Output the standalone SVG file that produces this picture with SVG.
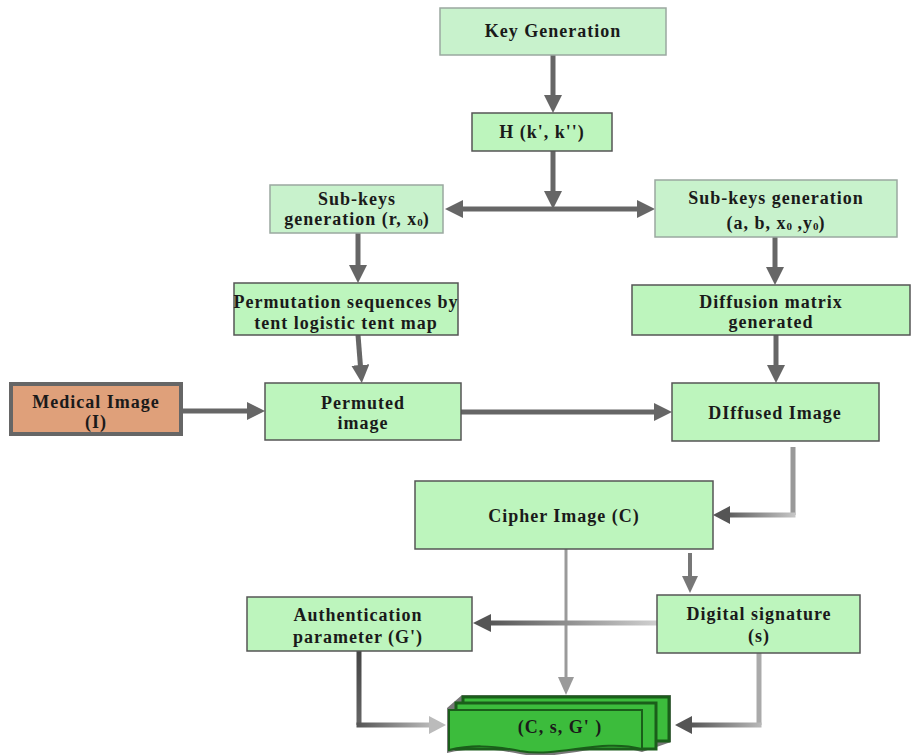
<svg xmlns="http://www.w3.org/2000/svg" width="913" height="755" viewBox="0 0 913 755">
<style>
.box{fill:#bdf5bd;stroke:#555;stroke-width:1.5}
.pale{fill:#c8f2cc;stroke:#9aa8a0;stroke-width:1.5}
.t{font-family:"Liberation Serif","DejaVu Serif",serif;font-weight:bold;font-size:18px;letter-spacing:1px;fill:#1a1a1a;text-anchor:middle}
.sub{font-size:11px;letter-spacing:0}
.c{fill:none;stroke:#666;stroke-width:5}
</style>
<defs>
<marker id="ah" markerWidth="18" markerHeight="18" refX="8" refY="9" orient="auto-start-reverse" markerUnits="userSpaceOnUse"><path d="M0,0 L18,9 L0,18 z" fill="#666"/></marker>
<linearGradient id="gDC" gradientUnits="userSpaceOnUse" x1="723" y1="0" x2="796" y2="0"><stop offset="0" stop-color="#555"/><stop offset="1" stop-color="#c8c8c8"/></linearGradient>
<linearGradient id="gDA" gradientUnits="userSpaceOnUse" x1="488" y1="0" x2="657" y2="0"><stop offset="0" stop-color="#555"/><stop offset="1" stop-color="#d0d0d0"/></linearGradient>
<linearGradient id="gAB" gradientUnits="userSpaceOnUse" x1="357" y1="0" x2="432" y2="0"><stop offset="0" stop-color="#555"/><stop offset="1" stop-color="#bbb"/></linearGradient>
<linearGradient id="gAV" gradientUnits="userSpaceOnUse" x1="0" y1="651" x2="0" y2="725"><stop offset="0" stop-color="#444"/><stop offset="1" stop-color="#666"/></linearGradient>
<linearGradient id="gSB" gradientUnits="userSpaceOnUse" x1="690" y1="0" x2="763" y2="0"><stop offset="0" stop-color="#555"/><stop offset="1" stop-color="#bbb"/></linearGradient>
</defs>

<g id="connectors">
<line class="c" x1="553" y1="55" x2="553" y2="103" marker-end="url(#ah)"/>
<line class="c" x1="553" y1="151" x2="553" y2="199" marker-end="url(#ah)"/>
<line class="c" x1="455" y1="209" x2="645" y2="209" marker-start="url(#ah)" marker-end="url(#ah)"/>
<line class="c" x1="358" y1="233" x2="358" y2="273" marker-end="url(#ah)"/>
<line class="c" x1="775" y1="237" x2="775" y2="275" marker-end="url(#ah)"/>
<line class="c" x1="358" y1="335" x2="361" y2="373" marker-end="url(#ah)"/>
<line class="c" x1="776" y1="335" x2="776" y2="373" marker-end="url(#ah)"/>
<line class="c" x1="182" y1="411" x2="255" y2="411" stroke-width="4" marker-end="url(#ah)"/>
<line class="c" x1="461" y1="412" x2="662" y2="412" marker-end="url(#ah)"/>
<!-- Diffused -> Cipher -->
<path d="M793,447 L793,515" fill="none" stroke="#999" stroke-width="5"/>
<path d="M795.5,515 L723,515" fill="none" stroke="url(#gDC)" stroke-width="5"/>
<polygon points="713,515 730,506 730,524" fill="#555"/>
<!-- Cipher -> Digital -->
<line x1="690" y1="553" x2="690" y2="578" stroke="#777" stroke-width="4"/>
<polygon points="690,593 682,576 698,576" fill="#777"/>
<!-- Cipher -> bundle -->
<line x1="566" y1="549" x2="566" y2="681" stroke="#9a9a9a" stroke-width="3"/>
<polygon points="566,695 558,677 574,677" fill="#9a9a9a"/>
<!-- Digital -> Auth -->
<line x1="657" y1="623" x2="487" y2="623" stroke="url(#gDA)" stroke-width="5"/>
<polygon points="473,623 491,614 491,632" fill="#555"/>
<!-- Auth -> bundle -->
<path d="M359,651 L359,725" fill="none" stroke="url(#gAV)" stroke-width="5"/>
<path d="M356.5,725 L432,725" fill="none" stroke="url(#gAB)" stroke-width="5"/>
<polygon points="446,725 429,716 429,734" fill="#bbb"/>
<!-- Digital -> bundle -->
<path d="M759,653 L759,725" fill="none" stroke="#aaa" stroke-width="5"/>
<path d="M761.5,725 L690,725" fill="none" stroke="url(#gSB)" stroke-width="5"/>
<polygon points="675,725 692,716 692,734" fill="#555"/>
</g>

<g id="key-generation">
<rect class="pale" x="440" y="8" width="226" height="47"/>
<text class="t" x="553" y="37">Key Generation</text>
</g>
<g id="hash">
<rect class="box" x="472" y="113" width="140" height="38"/>
<text class="t" x="542" y="138">H (k', k'')</text>
</g>
<g id="subkeys-left">
<rect class="pale" x="270" y="185" width="173" height="48"/>
<text class="t" x="357" y="205">Sub-keys</text>
<text class="t" x="357" y="225">generation (r, x<tspan class="sub" dy="1">0</tspan><tspan dy="-1">)</tspan></text>
</g>
<g id="subkeys-right">
<rect class="pale" x="655" y="180" width="242" height="57"/>
<text class="t" x="776" y="204">Sub-keys generation</text>
<text class="t" x="776" y="229">(a, b, x<tspan class="sub" dy="1">0</tspan><tspan dy="-1"> ,y</tspan><tspan class="sub" dy="1">0</tspan><tspan dy="-1">)</tspan></text>
</g>
<g id="permutation">
<rect class="box" x="234" y="283" width="224" height="52"/>
<text class="t" x="346" y="308" letter-spacing="0.4">Permutation sequences by</text>
<text class="t" x="346" y="329" letter-spacing="0.4">tent logistic tent map</text>
</g>
<g id="diffusion-matrix">
<rect class="box" x="632" y="285" width="278" height="50"/>
<text class="t" x="771" y="308">Diffusion matrix</text>
<text class="t" x="771" y="328">generated</text>
</g>
<g id="medical-image">
<rect x="11" y="384" width="170" height="50" fill="#dfa07a" stroke="#666" stroke-width="4"/>
<text class="t" x="96" y="408">Medical Image</text>
<text class="t" x="96" y="428">(I)</text>
</g>
<g id="permuted-image">
<rect class="box" x="265" y="383" width="196" height="57"/>
<text class="t" x="363" y="409">Permuted</text>
<text class="t" x="363" y="429">image</text>
</g>
<g id="diffused-image">
<rect class="box" x="672" y="383" width="207" height="58"/>
<text class="t" x="775" y="419">DIffused Image</text>
</g>
<g id="cipher-image">
<rect class="box" x="415" y="481" width="298" height="68"/>
<text class="t" x="564" y="522" font-size="19">Cipher Image (C)</text>
</g>
<g id="authentication">
<rect class="box" x="247" y="597" width="225" height="54"/>
<text class="t" x="358" y="621">Authentication</text>
<text class="t" x="358" y="643">parameter (G')</text>
</g>
<g id="digital-signature">
<rect class="box" x="657" y="595" width="203" height="58"/>
<text class="t" x="759" y="620">Digital signature</text>
<text class="t" x="759" y="642">(s)</text>
</g>
<g id="bundle">
<path d="M447,708 L462,695 L671,695 L671,742 L642,752 C600,740 560,762 520,754 C490,748 470,748 447,753 Z" fill="#777"/>
<rect x="463" y="697" width="206" height="44" fill="#3cbc3c" stroke="#1a5e1a" stroke-width="3"/>
<rect x="456" y="703" width="200" height="46" fill="#3cbc3c" stroke="#1a5e1a" stroke-width="3"/>
<path d="M449,710 L642,710 L642,749 C600,738 560,758 520,751 C490,745 470,745 449,750 Z" fill="#3cbc3c" stroke="#1a5e1a" stroke-width="2"/>
<text class="t" x="560" y="733">(C, s, G' )</text>
</g>
</svg>
